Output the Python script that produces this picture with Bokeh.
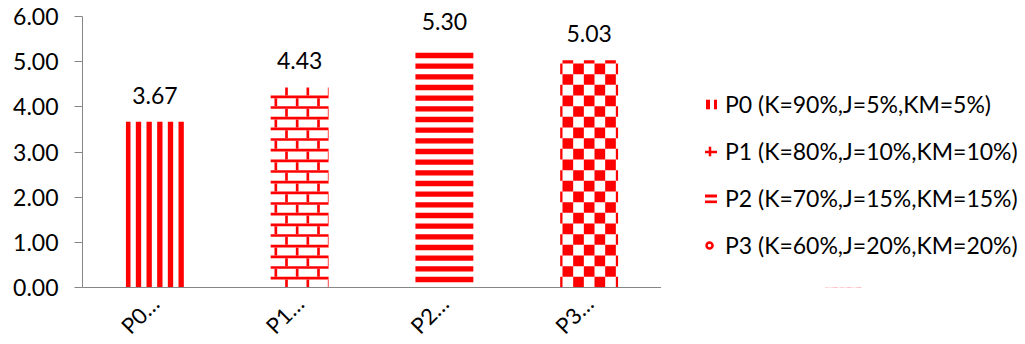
from math import pi

from bokeh.plotting import figure
from bokeh.layouts import row
from bokeh.core.properties import value
from bokeh.models import (ColumnDataSource, FactorRange, Range1d, FixedTicker,
                          NumeralTickFormatter, LabelSet, Legend, LegendItem)
from bokeh.embed import file_html
from bokeh.resources import INLINE

# ---- data -------------------------------------------------------------
categories = ["P0…", "P1…", "P2…", "P3…"]
series_names = [
    "P0 (K=90%,J=5%,KM=5%)",
    "P1 (K=80%,J=10%,KM=10%)",
    "P2 (K=70%,J=15%,KM=15%)",
    "P3 (K=60%,J=20%,KM=20%)",
]
values = [3.67, 4.43, 5.30, 5.03]
y_ticks = [0, 1, 2, 3, 4, 5, 6]

RED = "#ff0000"
FONT = "Lato"
AXIS_GREY = "#868686"

# ---- layout -------------------------------------------------------------
TOTAL_W, TOTAL_H = 1025, 344
LEFT, TOP, BOTTOM = 82, 5, 57
FRAME_W = 579
FRAME_H = TOTAL_H - TOP - BOTTOM
AXIS_MAX = 6
PX_Y = 271 / AXIS_MAX                 # screen px per value unit
Y_END = FRAME_H / PX_Y                # a little headroom above 6.00 for labels
BAR_W = 0.4
PX_X = FRAME_W / len(categories)      # screen px per category unit
CELL = 8 / 3                          # one pattern "pixel" in screen px

p = figure(
    frame_width=FRAME_W, frame_height=FRAME_H,
    x_range=FactorRange(*categories, range_padding=0),
    y_range=Range1d(0, Y_END),
    output_backend="svg", toolbar_location=None,
    min_border_left=LEFT, min_border_right=0,
    min_border_top=TOP, min_border_bottom=BOTTOM,
)
p.outline_line_color = None
p.xgrid.visible = False
p.ygrid.visible = False


# ---- pattern fills (red pieces clipped to each bar, in screen px) -----
def clipped(rects, bx0, bx1, by0, by1):
    out = []
    for x0, x1, y0, y1 in rects:
        l, r = max(x0, bx0), min(x1, bx1)
        b, t = max(y0, by0), min(y1, by1)
        if r - l > 0.05 and t - b > 0.05:
            out.append((l, r, b, t))
    return out


def vertical_stripes(bx0, bx1, by0, by1):
    period = 4 * CELL
    k0, k1 = int(bx0 // period) - 1, int(bx1 // period) + 1
    return clipped([(k * period, k * period + 2 * CELL, by0, by1)
                    for k in range(k0, k1 + 1)], bx0, bx1, by0, by1)


def horizontal_stripes(bx0, bx1, by0, by1):
    period = 4 * CELL
    k1 = int(by1 // period) + 1
    return clipped([(bx0, bx1, k * period + 2 * CELL, k * period + 4 * CELL)
                    for k in range(-1, k1 + 1)], bx0, bx1, by0, by1)


def bricks(bx0, bx1, by0, by1):
    row_h = 4 * CELL
    brick_len = 8 * CELL
    rects = []
    m0, m1 = int(bx0 // brick_len) - 1, int(bx1 // brick_len) + 1
    for k in range(0, int(by1 // row_h) + 2):
        y_line = k * row_h
        rects.append((bx0, bx1, y_line - CELL, y_line))
        shift = (k % 2) * 4 * CELL
        for m in range(m0, m1 + 1):
            x = m * brick_len + shift
            rects.append((x, x + CELL, y_line - row_h, y_line - CELL))
    return clipped(rects, bx0, bx1, by0, by1)


def checkerboard(bx0, bx1, by0, by1):
    size = 4 * CELL
    rects = []
    m0, m1 = int(bx0 // size) - 1, int(bx1 // size) + 1
    for k in range(0, int(by1 // size) + 1):
        for m in range(m0, m1 + 1):
            if (m + k) % 2 == 0:
                rects.append((m * size, (m + 1) * size, k * size, (k + 1) * size))
    return clipped(rects, bx0, bx1, by0, by1)


pattern_makers = [vertical_stripes, bricks, horizontal_stripes, checkerboard]

for i, (cat, val) in enumerate(zip(categories, values)):
    # white bar body
    p.vbar(x=[cat], top=[val], width=BAR_W, fill_color="white", line_color=None)

    # pattern pieces, built in screen px then mapped back to data units
    center = i + 0.5
    bx0 = (center - BAR_W / 2) * PX_X
    bx1 = (center + BAR_W / 2) * PX_X
    pieces = pattern_makers[i](bx0, bx1, 0.0, val * PX_Y)
    p.quad(left=[q[0] / PX_X for q in pieces], right=[q[1] / PX_X for q in pieces],
           bottom=[q[2] / PX_Y for q in pieces], top=[q[3] / PX_Y for q in pieces],
           fill_color=RED, line_color=None)

# value labels above the bars
lab_src = ColumnDataSource(dict(x=categories, y=values,
                                text=[f"{v:.2f}" for v in values]))
p.add_layout(LabelSet(x="x", y="y", text="text", source=lab_src,
                      text_align="center", text_baseline="alphabetic",
                      y_offset=18, text_font=value(FONT),
                      text_font_size=value("23px"), text_color="#000000"))

# axes
p.yaxis.ticker = FixedTicker(ticks=y_ticks)
p.yaxis.bounds = (0, AXIS_MAX)
p.yaxis.formatter = NumeralTickFormatter(format="0.00")
p.yaxis.axis_line_color = AXIS_GREY
p.yaxis.major_tick_line_color = AXIS_GREY
p.yaxis.major_tick_out = 8
p.yaxis.major_tick_in = 0
p.yaxis.minor_tick_line_color = None
p.yaxis.major_label_standoff = 16
p.yaxis.major_label_text_font = FONT
p.yaxis.major_label_text_font_size = "23px"
p.yaxis.major_label_text_color = "#000000"

p.xaxis.axis_line_color = AXIS_GREY
p.xaxis.major_tick_line_color = None
p.xaxis.minor_tick_line_color = None
p.xaxis.major_label_orientation = pi / 4
p.xaxis.major_label_standoff = 6
p.xaxis.major_label_text_font = FONT
p.xaxis.major_label_text_font_size = "22px"
p.xaxis.major_label_text_color = "#000000"

# ---- legend panel (same vertical frame as the chart) -----------------
lg = figure(
    frame_width=TOTAL_W - LEFT - FRAME_W, frame_height=FRAME_H,
    x_range=Range1d(0, 1), y_range=Range1d(0, 1),
    x_axis_location=None, y_axis_location=None,
    output_backend="svg", toolbar_location=None,
    min_border_left=0, min_border_right=0,
    min_border_top=TOP, min_border_bottom=BOTTOM,
)
lg.outline_line_color = None
lg.xgrid.visible = False
lg.ygrid.visible = False

# small legend swatches: hatch-only bar renderers placed below this
# panel's visible range so only their legend icons show
swatch_styles = [
    dict(hatch_pattern="vertical_line", hatch_scale=8, hatch_weight=4),
    dict(hatch_pattern="cross", hatch_scale=12, hatch_weight=2.5),
    dict(hatch_pattern="horizontal_line", hatch_scale=6, hatch_weight=3),
    dict(hatch_pattern="ring", hatch_scale=12, hatch_weight=2.5),
]
items = []
for name, style in zip(series_names, swatch_styles):
    swatch = lg.vbar(x=[0.5], top=[-2], bottom=[-3], width=0.1,
                     fill_color="white", line_color=None,
                     hatch_color=RED, **style)
    items.append(LegendItem(label=name, renderers=[swatch]))

legend = Legend(items=items, location=(42, 28), orientation="vertical",
                glyph_width=15, glyph_height=12, label_standoff=7,
                spacing=19, padding=0, margin=0,
                label_text_font=FONT, label_text_font_size="23px",
                label_text_color="#000000",
                border_line_color=None, background_fill_alpha=0)
lg.add_layout(legend)

layout = row(p, lg, spacing=0)
open("out.html", "w").write(file_html(layout, INLINE))
